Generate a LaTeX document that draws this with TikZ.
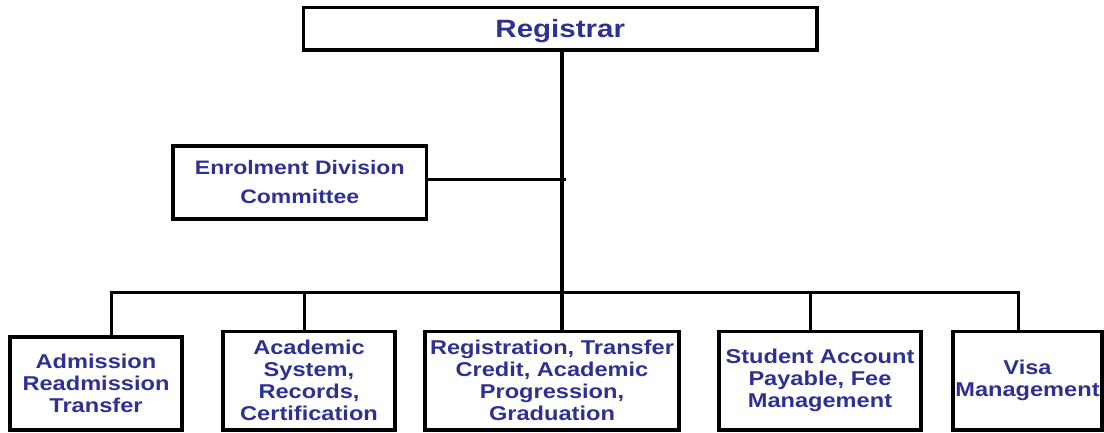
\documentclass[tikz,border=0pt]{standalone}
\usepackage{fontspec}
\newfontfamily\orgfont{Liberation Sans Bold}[FakeStretch=1.18]
\definecolor{orgblue}{RGB}{46,49,146}
\begin{document}
\begin{tikzpicture}[x=1pt,y=-1pt,
  box/.style={draw, line width=3.5pt, inner sep=0pt, align=center,
    text=orgblue, font=\orgfont\fontsize{20}{22}\selectfont},
  link/.style={line width=3pt},
  trunk/.style={line width=4pt}]
\useasboundingbox (0,0) rectangle (1104,432);

% head of the office
\node[box, minimum width=513.5, minimum height=42.5, text depth=0pt,
  font=\orgfont\fontsize{25}{28}\selectfont] (reg) at (560.25,28.75) {Registrar};

% advisory committee
\node[box, minimum width=253.5, minimum height=73,
  font=\orgfont\fontsize{19.5}{29}\selectfont] (enr) at (299.75,182.5)
  {Enrolment Division\\Committee};

% units
\node[box, minimum width=172, minimum height=93]   (b1) at (96,383.5)
  {Admission\\Readmission\\Transfer};
\node[box, minimum width=172, minimum height=98.5] (b2) at (309,380.75)
  {Academic\\System,\\Records,\\Certification};
\node[box, minimum width=254, minimum height=98.5] (b3) at (552,380.75)
  {Registration, Transfer\\Credit, Academic\\Progression,\\Graduation};
\node[box, minimum width=202, minimum height=98.5] (b4) at (820,380.75)
  {Student Account\\Payable, Fee\\Management};
\node[box, minimum width=149, minimum height=98.5] (b5) at (1027.5,380.75)
  {Visa\\Management};

% branch points on the distribution bar
\coordinate (t1) at (111,292);
\coordinate (t2) at (304,292);
\coordinate (t3) at (562,292);
\coordinate (t4) at (810,292);
\coordinate (t5) at (1018,292);
\coordinate (ej) at (566,179);

% connectors
\draw[trunk] (t3 |- reg.south) -- (t3 |- b3.north);
\draw[link] (enr.east |- ej) -- (ej);
\draw[link] (t1 |- b1.north) -- (t1) -- (t5) -- (t5 |- b5.north);
\draw[link] (t2) -- (t2 |- b2.north);
\draw[link] (t4) -- (t4 |- b4.north);
\end{tikzpicture}
\end{document}
